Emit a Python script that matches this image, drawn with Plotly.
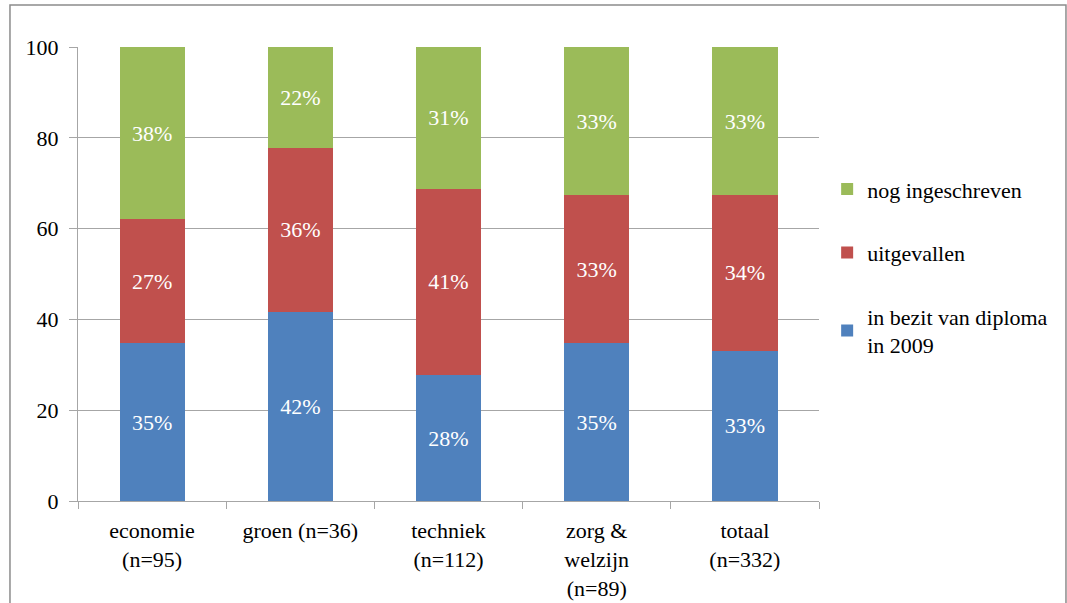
import plotly.graph_objects as go

categories = ["economie<br>(n=95)", "groen (n=36)", "techniek<br>(n=112)", "zorg &<br>welzijn<br>(n=89)", "totaal<br>(n=332)"]
diploma = [34.7, 41.7, 27.7, 34.8, 33.1]
uitgevallen = [27.4, 36.1, 41.1, 32.6, 34.3]
ingeschreven = [37.9, 22.2, 31.2, 32.6, 32.6]
y_ticks = [0, 20, 40, 60, 80, 100]

series = [
    ("in bezit van diploma<br>in 2009", diploma, "#4F81BD", 3),
    ("uitgevallen", uitgevallen, "#C0504D", 2),
    ("nog ingeschreven", ingeschreven, "#9BBB59", 1),
]

FONT = "Liberation Serif"
fig = go.Figure()
for i, (name, vals, col, rank) in enumerate(series):
    fig.add_trace(go.Bar(
        x=categories, y=vals, name=name, marker_color=col, marker_line_width=0,
        texttemplate="%{y:.0f}%", textposition="inside", insidetextanchor="middle",
        textfont=dict(color="white", size=22, family=FONT), legendgroup=f"g{i}",
        legendrank=rank, hoverinfo="skip",
    ))

fig.update_layout(
    barmode="stack", bargap=0.56,
    width=1067, height=603,
    margin=dict(l=78, r=248, t=47, b=102, autoexpand=False),
    paper_bgcolor="white", plot_bgcolor="white",
    font=dict(family=FONT, color="black", size=22),
    legend=dict(x=1.011, y=0.515, yanchor="middle", xanchor="left",
                traceorder="grouped", tracegroupgap=32,
                font=dict(size=22, family=FONT), itemwidth=30),
    showlegend=True,
)
fig.update_yaxes(range=[0, 100], tickvals=y_ticks, showgrid=True, gridcolor="#A6A6A6", gridwidth=1,
                 showline=True, linecolor="#A6A6A6", linewidth=1, ticks="outside", ticklen=8,
                 tickcolor="#A6A6A6", tickfont=dict(size=22, family=FONT), zeroline=False,
                 ticklabelstandoff=6, automargin=False)
fig.update_xaxes(showline=True, linecolor="#A6A6A6", linewidth=1, ticks="outside", ticklen=7,
                 tickcolor="#A6A6A6", tickson="boundaries", tickfont=dict(size=22, family=FONT),
                 tickangle=0, ticklabelstandoff=10, automargin=False)
fig.add_shape(type="rect", xref="paper", yref="paper", x0=-0.0918, x1=1.3333, y0=-0.3, y1=1.0925,
              line=dict(color="#8C8C8C", width=1.5), fillcolor="rgba(0,0,0,0)", layer="below")

fig.write_html("out.html", config={"displayModeBar": False},
               post_script="document.body.style.margin='0';document.body.style.overflow='hidden';")
